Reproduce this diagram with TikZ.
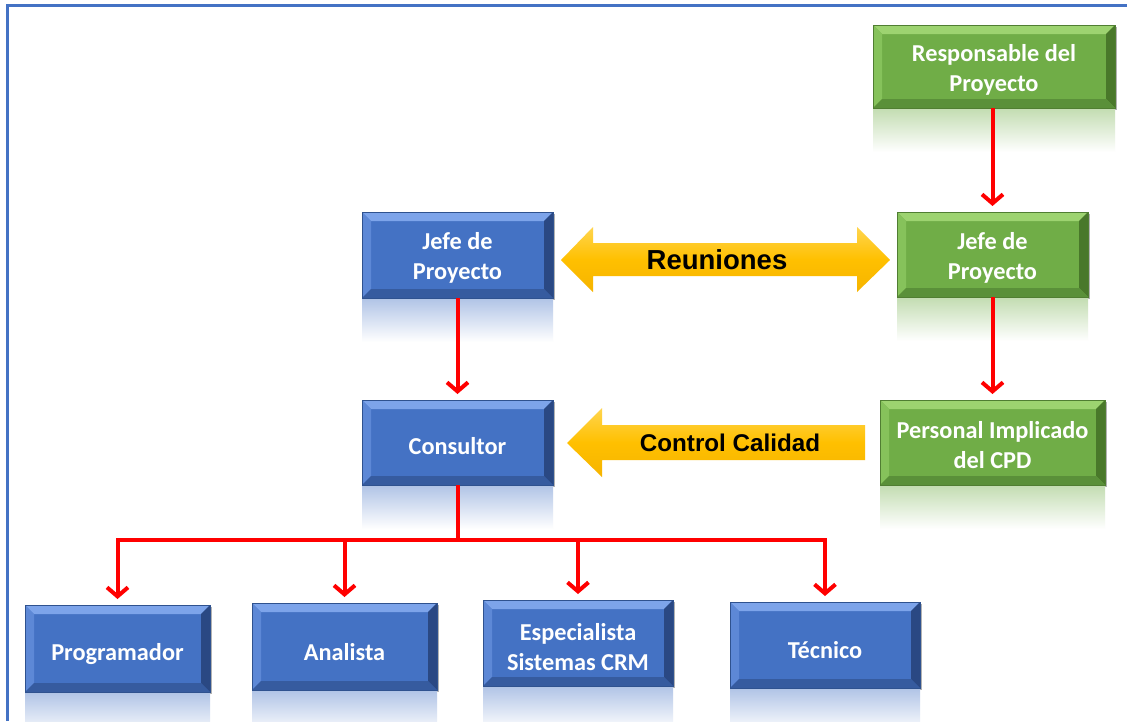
\documentclass[tikz,border=0pt]{standalone}
\usepackage{fontspec}
\setmainfont{Carlito}
\newfontfamily\bandfont{Liberation Sans}
\usetikzlibrary{arrows.meta,shadows}

% tile palettes
\definecolor{bFace}{HTML}{4472C4}
\definecolor{bTop}{HTML}{7DA4EA}
\definecolor{bLeft}{HTML}{5D88D6}
\definecolor{bRight}{HTML}{2A4883}
\definecolor{bBottom}{HTML}{365B9F}
\definecolor{bLine}{HTML}{2F528F}
\definecolor{gFace}{HTML}{70AD47}
\definecolor{gTop}{HTML}{9DD370}
\definecolor{gLeft}{HTML}{86C25B}
\definecolor{gRight}{HTML}{49782A}
\definecolor{gBottom}{HTML}{5A9039}
\definecolor{gLine}{HTML}{507E32}
\definecolor{yTop}{HTML}{FFD54F}
\definecolor{yMid}{HTML}{FFC000}
\definecolor{yBot}{HTML}{F6B400}
\definecolor{linkred}{HTML}{FF0000}
\definecolor{frameblue}{HTML}{4472C4}

% bevelled edges and outline of a tile
\newcommand\tilebevel[2]{%
  \fill[#2Top] (#1.north west) -- (#1.north east) -- ([xshift=-9pt,yshift=-9pt]#1.north east) -- ([xshift=9pt,yshift=-9pt]#1.north west) -- cycle;
  \fill[#2Left] (#1.north west) -- ([xshift=9pt,yshift=-9pt]#1.north west) -- ([xshift=9pt,yshift=9pt]#1.south west) -- (#1.south west) -- cycle;
  \fill[#2Right] (#1.north east) -- (#1.south east) -- ([xshift=-9pt,yshift=9pt]#1.south east) -- ([xshift=-9pt,yshift=-9pt]#1.north east) -- cycle;
  \fill[#2Bottom] (#1.south west) -- ([xshift=9pt,yshift=9pt]#1.south west) -- ([xshift=-9pt,yshift=9pt]#1.south east) -- (#1.south east) -- cycle;
  \draw[#2Line, line width=1pt] (#1.north west) rectangle (#1.south east);
}
% fading reflection under a tile
\newcommand\tilemirror[2]{%
  \shade[top color=#2Face!42!white, bottom color=white] ([yshift=-0.5pt]#1.south west) rectangle ([yshift=-44pt]#1.south east);
}

\tikzset{
  tile/.style={rectangle, inner sep=0pt, outer sep=0pt,
    drop shadow={shadow xshift=2pt, shadow yshift=-2pt, opacity=.3, fill=black}},
  bluetile/.style={tile, fill=bFace},
  greentile/.style={tile, fill=gFace},
  caption/.style={text=white, align=center, inner sep=0pt,
    font=\fontsize{24.3}{30}\selectfont\bfseries},
  link/.style={draw=linkred, line width=4pt, -{Straight Barb[length=9pt,width=21pt]}, shorten >=6pt},
  band/.style={top color=yTop, bottom color=yBot, middle color=yMid},
  bandtext/.style={text=black}
}

\begin{document}
\begin{tikzpicture}[x=1pt,y=-1pt]
\useasboundingbox (0,0) rectangle (1127,721);
\fill[white] (0,0) rectangle (1127,721);

% outer frame (top and left edges)
\draw[frameblue, line width=3pt] (7,721) -- (7,5) -- (1127,5);

% tiles
\node[greentile, minimum width=242pt, minimum height=83pt] (resp) at (994,66.5) {};
\node[greentile, minimum width=191pt, minimum height=85pt] (jefeg) at (992.5,254.5) {};
\node[bluetile, minimum width=191pt, minimum height=86pt] (jefeb) at (457.5,255) {};
\node[greentile, minimum width=225pt, minimum height=85pt] (pers) at (992.5,442.5) {};
\node[bluetile, minimum width=191pt, minimum height=85pt] (cons) at (457.5,442.5) {};
\node[bluetile, minimum width=185pt, minimum height=87pt] (prog) at (117.5,648.5) {};
\node[bluetile, minimum width=185pt, minimum height=87pt] (anal) at (344.5,646.5) {};
\node[bluetile, minimum width=190pt, minimum height=86pt] (espe) at (578,643) {};
\node[bluetile, minimum width=190pt, minimum height=86pt] (tecn) at (825,645) {};

% reflections
\foreach \n/\p in {resp/g, jefeg/g, jefeb/b, pers/g, cons/b, prog/b, anal/b, espe/b, tecn/b}{
  \tilemirror{\n}{\p}
}
% bevels
\foreach \n/\p in {resp/g, jefeg/g, jefeb/b, pers/g, cons/b, prog/b, anal/b, espe/b, tecn/b}{
  \tilebevel{\n}{\p}
}

% tile captions
\node[caption] (respT) at ([yshift=-3pt]resp.center) {Responsable del\\Proyecto};
\node[caption] (jefegT) at ([yshift=-3pt]jefeg.center) {Jefe de\\Proyecto};
\node[caption] (jefebT) at ([yshift=-3pt]jefeb.center) {Jefe de\\Proyecto};
\node[caption] (persT) at ([yshift=-3pt]pers.center) {Personal Implicado\\del CPD};
\node[caption] (consT) at ([yshift=-4pt]cons.center) {Consultor};
\node[caption] (progT) at ([yshift=-6pt]prog.center) {Programador};
\node[caption] (analT) at ([yshift=-6pt]anal.center) {Analista};
\node[caption] (espeT) at ([yshift=-4pt]espe.center) {Especialista\\Sistemas CRM};
\node[caption] (tecnT) at ([yshift=-5pt]tecn.center) {Técnico};

% yellow band arrows
\path[band] (561,260) -- (593,227) -- (593,243) -- (857,243) -- (857,227) -- (890,260)
  -- (857,292) -- (857,276) -- (593,276) -- (593,292) -- cycle;
\node[bandtext, font=\bandfont\bfseries\fontsize{27.5}{32}\selectfont] (reun) at (717,260) {Reuniones};
\path[band] (567,443) -- (602,408) -- (602,425) -- (865,425) -- (865,460) -- (602,460)
  -- (602,477) -- cycle;
\node[bandtext, font=\bandfont\bfseries\fontsize{24.2}{29}\selectfont] (ctrl) at (730,443) {Control Calidad};

% red links
\coordinate (bus) at (cons.south |- 0,540);
\draw[link] (resp.south -| jefeg) -- (jefeg.north);
\draw[link] (jefeg.south) -- (pers.north -| jefeg);
\draw[link] (jefeb.south) -- (cons.north);
\draw[link] (cons.south) -- (bus) -| (prog.north);
\draw[link] (cons.south) -- (bus) -| (anal.north);
\draw[link] (cons.south) -- (bus) -| (espe.north);
\draw[link] (cons.south) -- (bus) -| (tecn.north);
\end{tikzpicture}
\end{document}
